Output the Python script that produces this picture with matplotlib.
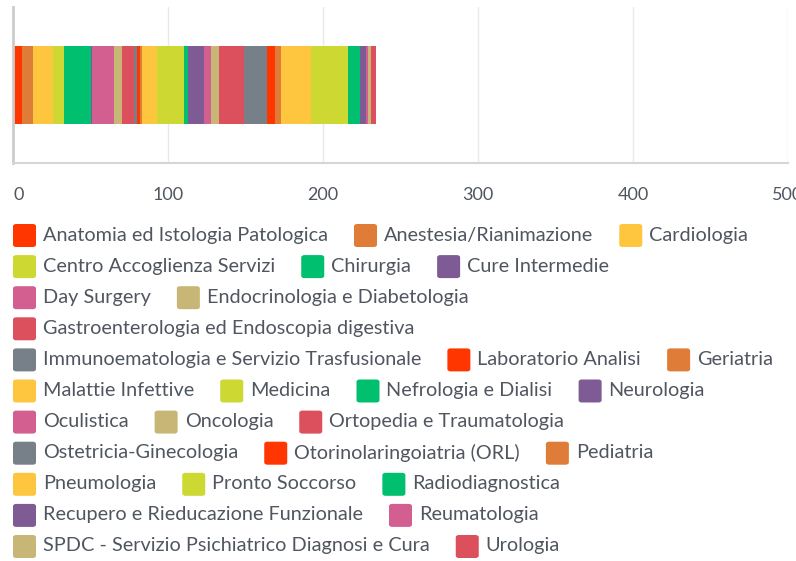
import matplotlib
matplotlib.use("Agg")
import matplotlib.pyplot as plt
from matplotlib.patches import FancyBboxPatch

departments = [
    "Anatomia ed Istologia Patologica", "Anestesia/Rianimazione", "Cardiologia",
    "Centro Accoglienza Servizi", "Chirurgia", "Cure Intermedie", "Day Surgery",
    "Endocrinologia e Diabetologia", "Gastroenterologia ed Endoscopia digestiva",
    "Immunoematologia e Servizio Trasfusionale", "Laboratorio Analisi", "Geriatria",
    "Malattie Infettive", "Medicina", "Nefrologia e Dialisi", "Neurologia",
    "Oculistica", "Oncologia", "Ortopedia e Traumatologia", "Ostetricia-Ginecologia",
    "Otorinolaringoiatria (ORL)", "Pediatria", "Pneumologia", "Pronto Soccorso",
    "Radiodiagnostica", "Recupero e Rieducazione Funzionale", "Reumatologia",
    "SPDC - Servizio Psichiatrico Diagnosi e Cura", "Urologia",
]
counts = [6, 7, 13, 7, 17, 1, 14, 5, 8, 2, 2, 1, 10, 17, 3, 10, 5, 5, 16, 15,
          5, 4, 19, 24, 8, 4, 1, 2, 3]
palette = ["#ff3600", "#df7d38", "#fec63f", "#cdd833", "#00bf6f",
           "#7e5b94", "#d35f91", "#c8b677", "#dc4f5d", "#778088"]
xticks = [0, 100, 200, 300, 400, 500]
# how many legend entries sit on each row in the original
legend_rows = [3, 3, 2, 1, 3, 4, 3, 3, 3, 2, 2]

W, H = 796, 561
text_color = "#50565f"
fig = plt.figure(figsize=(W / 100, H / 100), dpi=100)
ax = fig.add_axes([13 / W, 1 - 163 / H, 775 / W, 156 / H])

left = 0
for i, v in enumerate(counts):
    ax.barh(0, v, left=left, height=1.0, color=palette[i % len(palette)], linewidth=0)
    left += v

ax.set_xlim(0, 500)
ax.set_ylim(-1, 1)
ax.set_yticks([])
ax.set_xticks(xticks)
ax.set_xticklabels([str(t) for t in xticks], fontsize=13, color=text_color, family="Lato")
ax.get_xticklabels()[0].set_ha("left")
ax.tick_params(axis="x", length=0, pad=17)
ax.xaxis.grid(True, color="#e9e9e9", linewidth=1)
ax.set_axisbelow(True)
for s in ["top", "right"]:
    ax.spines[s].set_visible(False)
ax.spines["left"].set_color("#cccccc")
ax.spines["left"].set_linewidth(2)
ax.spines["bottom"].set_color("#d5d5d5")
ax.spines["bottom"].set_linewidth(1.5)

# legend rows
fig.canvas.draw()
renderer = fig.canvas.get_renderer()
box = 25
row_h = 31.1
idx = 0
for r, n in enumerate(legend_rows):
    x = 12
    y = 235 + r * row_h
    for k in range(n):
        name = departments[idx]
        color = palette[idx % len(palette)]
        t = fig.text((x + box + 6) / W, 1 - y / H, name, fontsize=14.3, color=text_color,
                     family="Lato", va="center", ha="left")
        tw = t.get_window_extent(renderer).width
        fig.patches.append(FancyBboxPatch(((x + 1) / W, 1 - (y + 12) / H), (box - 2) / W, (box - 2) / H,
                                          boxstyle="round,pad=0,rounding_size=0.004",
                                          transform=fig.transFigure, facecolor=color,
                                          edgecolor="none", figure=fig))
        x += box + 6 + tw + 25
        idx += 1

fig.savefig("out.png", dpi=100)
